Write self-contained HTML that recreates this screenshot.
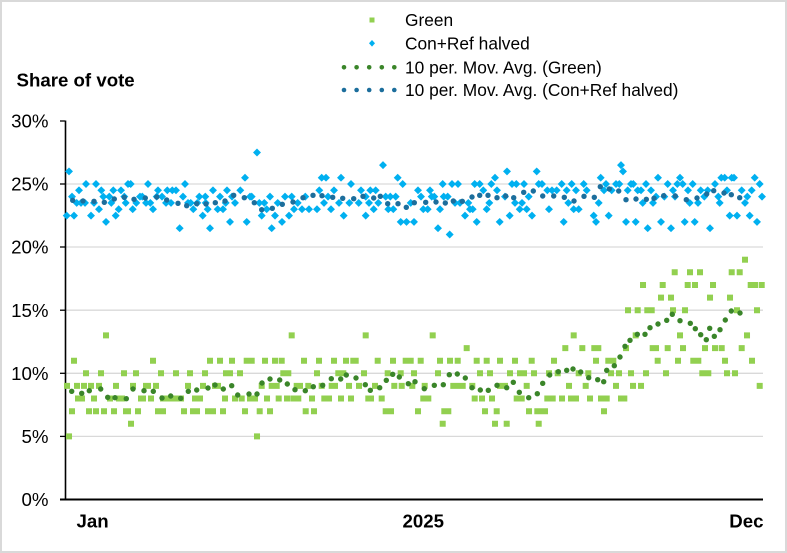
<!DOCTYPE html>
<html><head><meta charset="utf-8"><style>
html,body{margin:0;padding:0;background:#fff;}
svg{display:block;}
text{font-family:"Liberation Sans",Arial,sans-serif;fill:#000;}
</style></head><body>
<svg width="787" height="553" viewBox="0 0 787 553" xmlns="http://www.w3.org/2000/svg">
<rect x="0" y="0" width="787" height="553" fill="#fff"/>
<rect x="1" y="1" width="785" height="551" fill="none" stroke="#d9d9d9" stroke-width="2"/>
<g stroke="#d9d9d9" stroke-width="1.3">
<line x1="66" y1="184" x2="763" y2="184"/>
<line x1="66" y1="247" x2="763" y2="247"/>
<line x1="66" y1="310.2" x2="763" y2="310.2"/>
<line x1="66" y1="373.3" x2="763" y2="373.3"/>
<line x1="66" y1="436.4" x2="763" y2="436.4"/>
</g>
<g stroke="#000">
<line x1="65.5" y1="120.5" x2="65.5" y2="500" stroke-width="1.6"/>
<line x1="60" y1="499.5" x2="763" y2="499.5" stroke-width="2"/>
<g stroke-width="1.3">
<line x1="60" y1="121" x2="65" y2="121"/>
<line x1="60" y1="184" x2="65" y2="184"/>
<line x1="60" y1="247" x2="65" y2="247"/>
<line x1="60" y1="310.2" x2="65" y2="310.2"/>
<line x1="60" y1="373.3" x2="65" y2="373.3"/>
<line x1="60" y1="436.4" x2="65" y2="436.4"/>
</g>
</g>
<g font-size="18.67" text-anchor="end">
<text x="48.5" y="127.7">30%</text>
<text x="48.5" y="190.7">25%</text>
<text x="48.5" y="253.7">20%</text>
<text x="48.5" y="316.9">15%</text>
<text x="48.5" y="380">10%</text>
<text x="48.5" y="443.1">5%</text>
<text x="48.5" y="506.2">0%</text>
</g>
<text x="16.5" y="86.4" font-size="18.67" font-weight="bold">Share of vote</text>
<g font-size="18.67" font-weight="bold">
<text x="76.5" y="527.4">Jan</text>
<text x="402.5" y="527.4">2025</text>
<text x="763.5" y="527.4" text-anchor="end">Dec</text>
</g>

<g fill="none" stroke="#92d050" stroke-width="6" stroke-linecap="square">
<path d="M69 436.4h.01M257 436.4h.01"/>
<path d="M131 423.8h.01M442.7 423.8h.01M495 423.8h.01M506.7 423.8h.01M538.7 423.8h.01"/>
<path d="M72 411.2h.01M89 411.2h.01M96 411.2h.01M104 411.2h.01M114 411.2h.01M126 411.2h.01M128 411.2h.01M138 411.2h.01M158 411.2h.01M163 411.2h.01M184 411.2h.01M193 411.2h.01M197 411.2h.01M208 411.2h.01M213 411.2h.01M223 411.2h.01M245 411.2h.01M259.7 411.2h.01M270 411.2h.01M305.7 411.2h.01M314 411.2h.01M385.7 411.2h.01M391 411.2h.01M418 411.2h.01M444.3 411.2h.01M448.3 411.2h.01M485 411.2h.01M496.7 411.2h.01M529 411.2h.01M537.3 411.2h.01M541 411.2h.01M545 411.2h.01M604 411.2h.01"/>
<path d="M78 398.5h.01M82 398.5h.01M94 398.5h.01M110 398.5h.01M119 398.5h.01M122 398.5h.01M141 398.5h.01M143 398.5h.01M151 398.5h.01M163 398.5h.01M167 398.5h.01M171 398.5h.01M176 398.5h.01M181 398.5h.01M195 398.5h.01M200 398.5h.01M225 398.5h.01M235 398.5h.01M241.7 398.5h.01M250 398.5h.01M255 398.5h.01M267 398.5h.01M278.7 398.5h.01M287 398.5h.01M293.3 398.5h.01M298.3 398.5h.01M312 398.5h.01M324.3 398.5h.01M329 398.5h.01M341 398.5h.01M351 398.5h.01M368.3 398.5h.01M371 398.5h.01M381.7 398.5h.01M423.3 398.5h.01M428.3 398.5h.01M474.7 398.5h.01M482 398.5h.01M492 398.5h.01M516.7 398.5h.01M521.7 398.5h.01M547.3 398.5h.01M552.7 398.5h.01M562 398.5h.01M571 398.5h.01M576 398.5h.01M590 398.5h.01M601 398.5h.01M606.7 398.5h.01M621 398.5h.01M624.3 398.5h.01"/>
<path d="M67 385.9h.01M77 385.9h.01M84 385.9h.01M91 385.9h.01M99 385.9h.01M116 385.9h.01M133 385.9h.01M146 385.9h.01M148 385.9h.01M156 385.9h.01M188 385.9h.01M203 385.9h.01M215 385.9h.01M218 385.9h.01M261.7 385.9h.01M271.7 385.9h.01M276.7 385.9h.01M296.7 385.9h.01M300 385.9h.01M308.3 385.9h.01M321.7 385.9h.01M331.7 385.9h.01M335 385.9h.01M349 385.9h.01M359 385.9h.01M375 385.9h.01M394.3 385.9h.01M401.7 385.9h.01M412.3 385.9h.01M424.7 385.9h.01M453.3 385.9h.01M458.3 385.9h.01M462.7 385.9h.01M472.3 385.9h.01M500 385.9h.01M505 385.9h.01M526.7 385.9h.01M569 385.9h.01M585.7 385.9h.01M616 385.9h.01M633 385.9h.01M641 385.9h.01M759.7 385.9h.01"/>
<path d="M86 373.3h.01M101 373.3h.01M124 373.3h.01M136 373.3h.01M161 373.3h.01M176 373.3h.01M190 373.3h.01M205 373.3h.01M226 373.3h.01M230 373.3h.01M240 373.3h.01M283.3 373.3h.01M288.3 373.3h.01M317 373.3h.01M338.3 373.3h.01M343.3 373.3h.01M364 373.3h.01M387.7 373.3h.01M400.7 373.3h.01M414 373.3h.01M438 373.3h.01M480 373.3h.01M490 373.3h.01M510 373.3h.01M520 373.3h.01M524 373.3h.01M534 373.3h.01M549 373.3h.01M557.7 373.3h.01M578.7 373.3h.01M588.3 373.3h.01M611 373.3h.01M619 373.3h.01M631 373.3h.01M646 373.3h.01M666 373.3h.01M702.3 373.3h.01M708.3 373.3h.01M727 373.3h.01M735 373.3h.01"/>
<path d="M74 360.7h.01M153 360.7h.01M210 360.7h.01M220 360.7h.01M232 360.7h.01M246.7 360.7h.01M251.7 360.7h.01M265 360.7h.01M275 360.7h.01M281.7 360.7h.01M304 360.7h.01M319 360.7h.01M334 360.7h.01M346 360.7h.01M353.3 360.7h.01M355.7 360.7h.01M377.7 360.7h.01M393 360.7h.01M405.7 360.7h.01M410.7 360.7h.01M420.7 360.7h.01M440 360.7h.01M450 360.7h.01M457.7 360.7h.01M476.7 360.7h.01M486.7 360.7h.01M500 360.7h.01M515 360.7h.01M531.7 360.7h.01M554 360.7h.01M596 360.7h.01M608.3 360.7h.01M613.3 360.7h.01M657.7 360.7h.01M678 360.7h.01M693.3 360.7h.01M698.3 360.7h.01M725 360.7h.01M752 360.7h.01"/>
<path d="M466.7 348.1h.01M565.3 348.1h.01M582.3 348.1h.01M594.3 348.1h.01M598.3 348.1h.01M626 348.1h.01M652.7 348.1h.01M656 348.1h.01M667.7 348.1h.01M683 348.1h.01M705 348.1h.01M715 348.1h.01M721.7 348.1h.01M741.7 348.1h.01"/>
<path d="M106 335.4h.01M291.7 335.4h.01M365.7 335.4h.01M432.7 335.4h.01M573.7 335.4h.01M635.7 335.4h.01M680 335.4h.01M747 335.4h.01"/>
<path d="M628 310.2h.01M637.7 310.2h.01M647.3 310.2h.01M651.7 310.2h.01M673 310.2h.01M685 310.2h.01M737 310.2h.01M757 310.2h.01"/>
<path d="M661 297.6h.01M671 297.6h.01M710 297.6h.01M730 297.6h.01"/>
<path d="M643 285h.01M662.7 285h.01M687.7 285h.01M695 285h.01M713 285h.01M750.7 285h.01M755 285h.01M761.7 285h.01"/>
<path d="M674.7 272.3h.01M690 272.3h.01M700 272.3h.01M731.7 272.3h.01M739.7 272.3h.01"/>
<path d="M745 259.7h.01"/>
</g>

<g fill="none" stroke="#00b0f0" stroke-width="5.6" stroke-linecap="square">
<path d="M257 152.5l.01 .01"/>
<path d="M383 165.1l.01 .01M621 165.1l.01 .01"/>
<path d="M69 171.4l.01 .01M507 171.4l.01 .01M536.7 171.4l.01 .01M623 171.4l.01 .01"/>
<path d="M245 177.7l.01 .01M321.7 177.7l.01 .01M326 177.7l.01 .01M341 177.7l.01 .01M397.7 177.7l.01 .01M495 177.7l.01 .01M600.7 177.7l.01 .01M658 177.7l.01 .01M680 177.7l.01 .01M721.3 177.7l.01 .01M724.7 177.7l.01 .01M731.7 177.7l.01 .01M734 177.7l.01 .01M754.7 177.7l.01 .01"/>
<path d="M86 184l.01 .01M96 184l.01 .01M128 184l.01 .01M130.7 184l.01 .01M148 184l.01 .01M185 184l.01 .01M351 184l.01 .01M402.7 184l.01 .01M442.7 184l.01 .01M452 184l.01 .01M458 184l.01 .01M474.7 184l.01 .01M479.7 184l.01 .01M491.3 184l.01 .01M512 184l.01 .01M516.3 184l.01 .01M524 184l.01 .01M538.7 184l.01 .01M542 184l.01 .01M561.7 184l.01 .01M571.7 184l.01 .01M583.7 184l.01 .01M606 184l.01 .01M616 184l.01 .01M619.3 184l.01 .01M631 184l.01 .01M633.3 184l.01 .01M646 184l.01 .01M667.7 184l.01 .01M677.3 184l.01 .01M682.7 184l.01 .01M692.7 184l.01 .01M715 184l.01 .01M759.7 184l.01 .01"/>
<path d="M79 190.3l.01 .01M101.3 190.3l.01 .01M113.3 190.3l.01 .01M121 190.3l.01 .01M158 190.3l.01 .01M167.3 190.3l.01 .01M172.3 190.3l.01 .01M176 190.3l.01 .01M213 190.3l.01 .01M227 190.3l.01 .01M240.3 190.3l.01 .01M319.3 190.3l.01 .01M334 190.3l.01 .01M361 190.3l.01 .01M370.3 190.3l.01 .01M375.7 190.3l.01 .01M418 190.3l.01 .01M430 190.3l.01 .01M483.3 190.3l.01 .01M497 190.3l.01 .01M547.3 190.3l.01 .01M552 190.3l.01 .01M556.7 190.3l.01 .01M566.7 190.3l.01 .01M576 190.3l.01 .01M586.7 190.3l.01 .01M604 190.3l.01 .01M611.7 190.3l.01 .01M627.7 190.3l.01 .01M637.7 190.3l.01 .01M641 190.3l.01 .01M651 190.3l.01 .01M673 190.3l.01 .01M688 190.3l.01 .01M700.7 190.3l.01 .01M707.7 190.3l.01 .01M727 190.3l.01 .01M741.7 190.3l.01 .01M751.7 190.3l.01 .01"/>
<path d="M72 196.6l.01 .01M103.3 196.6l.01 .01M109.3 196.6l.01 .01M124.3 196.6l.01 .01M140 196.6l.01 .01M142.3 196.6l.01 .01M156.7 196.6l.01 .01M162 196.6l.01 .01M183 196.6l.01 .01M199.3 196.6l.01 .01M205.3 196.6l.01 .01M220 196.6l.01 .01M232 196.6l.01 .01M250 196.6l.01 .01M251.7 196.6l.01 .01M270 196.6l.01 .01M285 196.6l.01 .01M291.7 196.6l.01 .01M305.3 196.6l.01 .01M328 196.6l.01 .01M365.7 196.6l.01 .01M385.7 196.6l.01 .01M390.3 196.6l.01 .01M395.7 196.6l.01 .01M421 196.6l.01 .01M431.7 196.6l.01 .01M434.3 196.6l.01 .01M443.7 196.6l.01 .01M447.7 196.6l.01 .01M505 196.6l.01 .01M528.7 196.6l.01 .01M656 196.6l.01 .01M664.3 196.6l.01 .01M675 196.6l.01 .01M704.3 196.6l.01 .01M718.3 196.6l.01 .01M747.3 196.6l.01 .01M762 196.6l.01 .01"/>
<path d="M76.7 202.9l.01 .01M81 202.9l.01 .01M85 202.9l.01 .01M94 202.9l.01 .01M111.3 202.9l.01 .01M125.7 202.9l.01 .01M136.3 202.9l.01 .01M146 202.9l.01 .01M150.3 202.9l.01 .01M166 202.9l.01 .01M171 202.9l.01 .01M188 202.9l.01 .01M190.7 202.9l.01 .01M197.3 202.9l.01 .01M205.7 202.9l.01 .01M225.7 202.9l.01 .01M235 202.9l.01 .01M259.3 202.9l.01 .01M264.3 202.9l.01 .01M277.7 202.9l.01 .01M297.7 202.9l.01 .01M324 202.9l.01 .01M339 202.9l.01 .01M349.3 202.9l.01 .01M358.7 202.9l.01 .01M369 202.9l.01 .01M378.3 202.9l.01 .01M410.7 202.9l.01 .01M455 202.9l.01 .01M460 202.9l.01 .01M468.3 202.9l.01 .01M489.3 202.9l.01 .01M515 202.9l.01 .01M522 202.9l.01 .01M568.3 202.9l.01 .01M598.7 202.9l.01 .01M642.7 202.9l.01 .01M653 202.9l.01 .01M689.7 202.9l.01 .01M698 202.9l.01 .01M719.7 202.9l.01 .01M745 202.9l.01 .01"/>
<path d="M99 209.2l.01 .01M118.7 209.2l.01 .01M132.7 209.2l.01 .01M153 209.2l.01 .01M193.3 209.2l.01 .01M207.7 209.2l.01 .01M217.7 209.2l.01 .01M223 209.2l.01 .01M266.7 209.2l.01 .01M294 209.2l.01 .01M302 209.2l.01 .01M309 209.2l.01 .01M317 209.2l.01 .01M331 209.2l.01 .01M373.7 209.2l.01 .01M388.3 209.2l.01 .01M393.3 209.2l.01 .01M423.3 209.2l.01 .01M427.7 209.2l.01 .01M440 209.2l.01 .01M470 209.2l.01 .01M472.7 209.2l.01 .01M486.7 209.2l.01 .01M519.7 209.2l.01 .01M526.7 209.2l.01 .01M549 209.2l.01 .01M573.7 209.2l.01 .01M578.7 209.2l.01 .01"/>
<path d="M66.7 215.6l.01 .01M74 215.6l.01 .01M91 215.6l.01 .01M115.7 215.6l.01 .01M202.7 215.6l.01 .01M261.7 215.6l.01 .01M275 215.6l.01 .01M289 215.6l.01 .01M343.7 215.6l.01 .01M365.7 215.6l.01 .01M465 215.6l.01 .01M509.7 215.6l.01 .01M532 215.6l.01 .01M593.7 215.6l.01 .01M608.7 215.6l.01 .01M729.7 215.6l.01 .01M737 215.6l.01 .01M749.7 215.6l.01 .01"/>
<path d="M106 221.9l.01 .01M230 221.9l.01 .01M246.7 221.9l.01 .01M282 221.9l.01 .01M400.7 221.9l.01 .01M406.5 221.9l.01 .01M414 221.9l.01 .01M476.7 221.9l.01 .01M499.7 221.9l.01 .01M563.7 221.9l.01 .01M596 221.9l.01 .01M626 221.9l.01 .01M635.7 221.9l.01 .01M661 221.9l.01 .01M684.7 221.9l.01 .01M694.7 221.9l.01 .01M757 221.9l.01 .01"/>
<path d="M179.7 228.2l.01 .01M210 228.2l.01 .01M271.7 228.2l.01 .01M438 228.2l.01 .01M647.7 228.2l.01 .01M671 228.2l.01 .01M710 228.2l.01 .01"/>
<path d="M449.7 234.5l.01 .01"/>
</g>

<path fill="none" stroke="#3a8529" stroke-width="5.4" stroke-linecap="round" d="M71.7 391.3h.01M81.7 393.3h.01M89.3 390.7h.01M100.7 389h.01M107.7 397.3h.01M115 397.7h.01M126.3 398.7h.01M133 389h.01M144 390.7h.01M153.3 391.3h.01M162 398h.01M170.7 396h.01M180.7 398.3h.01M188.3 391.3h.01M196.7 390h.01M208 388h.01M215 385h.01M223.3 389h.01M231.7 385.7h.01M237.7 395h.01M249 394h.01M257 394h.01M262 383h.01M270 379h.01M279.7 380h.01M287.3 384h.01M295 389.7h.01M305.3 390.7h.01M313.3 386.7h.01M322.7 385.3h.01M331.3 378.7h.01M340.7 379h.01M346.3 375h.01M356 378h.01M365.3 384.7h.01M370.3 390.3h.01M379.7 387.7h.01M386.3 380.3h.01M392.7 374.3h.01M399.3 377h.01M408.3 383.7h.01M415 381.7h.01M424.3 388.7h.01M434.3 385.3h.01M443.3 384.7h.01M449.3 374.7h.01M457.3 374h.01M465.3 378h.01M472 387.7h.01M480.3 390h.01M488.3 390.3h.01M497 385.3h.01M506.7 387.7h.01M513.3 382.3h.01M519.3 392.3h.01M528.7 397.7h.01M537.3 393.7h.01M542.7 383.3h.01M549.7 375h.01M558.3 371.7h.01M566.7 370.3h.01M573 369h.01M580.7 372h.01M588.7 377.7h.01M597.7 379.7h.01M603.7 381.7h.01M606.7 370.3h.01M614.3 365.7h.01M620 357h.01M625 346.3h.01M630 340.3h.01M637.3 334.3h.01M645 334.3h.01M650 327.7h.01M658 324h.01M666.7 320.3h.01M672.3 314.3h.01M680 320.7h.01M690.3 323.3h.01M695.3 328.7h.01M700.7 334.7h.01M706.3 339.7h.01M709.7 328.3h.01M714.3 336.3h.01M720 329.7h.01M725.3 320h.01M731.3 311h.01M740 313h.01"/>

<path fill="none" stroke="#1c6e9c" stroke-width="5.4" stroke-linecap="round" d="M72.7 200.3h.01M83 201h.01M94 201.3h.01M104.3 202.3h.01M114.3 199h.01M124.3 197.3h.01M134 199.3h.01M145.3 198h.01M156.7 197h.01M166.7 200h.01M178 203.3h.01M186.7 205.7h.01M196.7 203.7h.01M206 204h.01M215.3 202.7h.01M225 201h.01M233.7 195.3h.01M244.3 197.7h.01M254.3 202.7h.01M261.7 209.7h.01M272.3 208.3h.01M282.3 204.3h.01M293 202h.01M303 197.7h.01M313 195.3h.01M322 195.7h.01M332.7 197.3h.01M342.7 198.3h.01M353.7 198.7h.01M363 196.3h.01M373.7 198h.01M380.3 196.3h.01M387.7 203.7h.01M398 203.7h.01M406.3 207.3h.01M414.3 202.7h.01M425.7 202.3h.01M436 202h.01M445.3 203h.01M453.3 201h.01M462.3 201.3h.01M472 197h.01M479.7 195.3h.01M488 195.3h.01M497 197.7h.01M505.7 196h.01M513.7 197.7h.01M523.7 192.3h.01M533.3 191h.01M542.7 196h.01M553.7 196h.01M564.3 197.3h.01M574 201h.01M584 196.3h.01M594.3 197.3h.01M600.3 186.7h.01M609.3 189h.01M618.7 191h.01M626 199.7h.01M636 199h.01M646.3 199.3h.01M654 198.3h.01M663.7 195.7h.01M675.3 196h.01M686.3 199.7h.01M697 198h.01M706.7 194h.01M713.7 190.7h.01M724 193h.01M731.3 194.7h.01M739.7 197.7h.01"/>

<rect x="369.5" y="17.5" width="5" height="5" fill="#92d050"/>
<path d="M372 40l3 3.3-3 3.3-3-3.3z" fill="#00b0f0"/>
<g fill="#3a8529">
<circle cx="344" cy="67.3" r="2.3"/><circle cx="356.6" cy="67.3" r="2.3"/><circle cx="369.2" cy="67.3" r="2.3"/><circle cx="381.8" cy="67.3" r="2.3"/><circle cx="394.3" cy="67.3" r="2.3"/>
</g>
<g fill="#1c6e9c">
<circle cx="344" cy="90" r="2.3"/><circle cx="356.6" cy="90" r="2.3"/><circle cx="369.2" cy="90" r="2.3"/><circle cx="381.8" cy="90" r="2.3"/><circle cx="394.3" cy="90" r="2.3"/>
</g>
<g font-size="17.33">
<text x="405" y="26.2">Green</text>
<text x="405" y="49.5">Con+Ref halved</text>
<text x="405" y="73.5">10 per. Mov. Avg. (Green)</text>
<text x="405" y="96.2">10 per. Mov. Avg. (Con+Ref halved)</text>
</g>
</svg>
</body></html>
